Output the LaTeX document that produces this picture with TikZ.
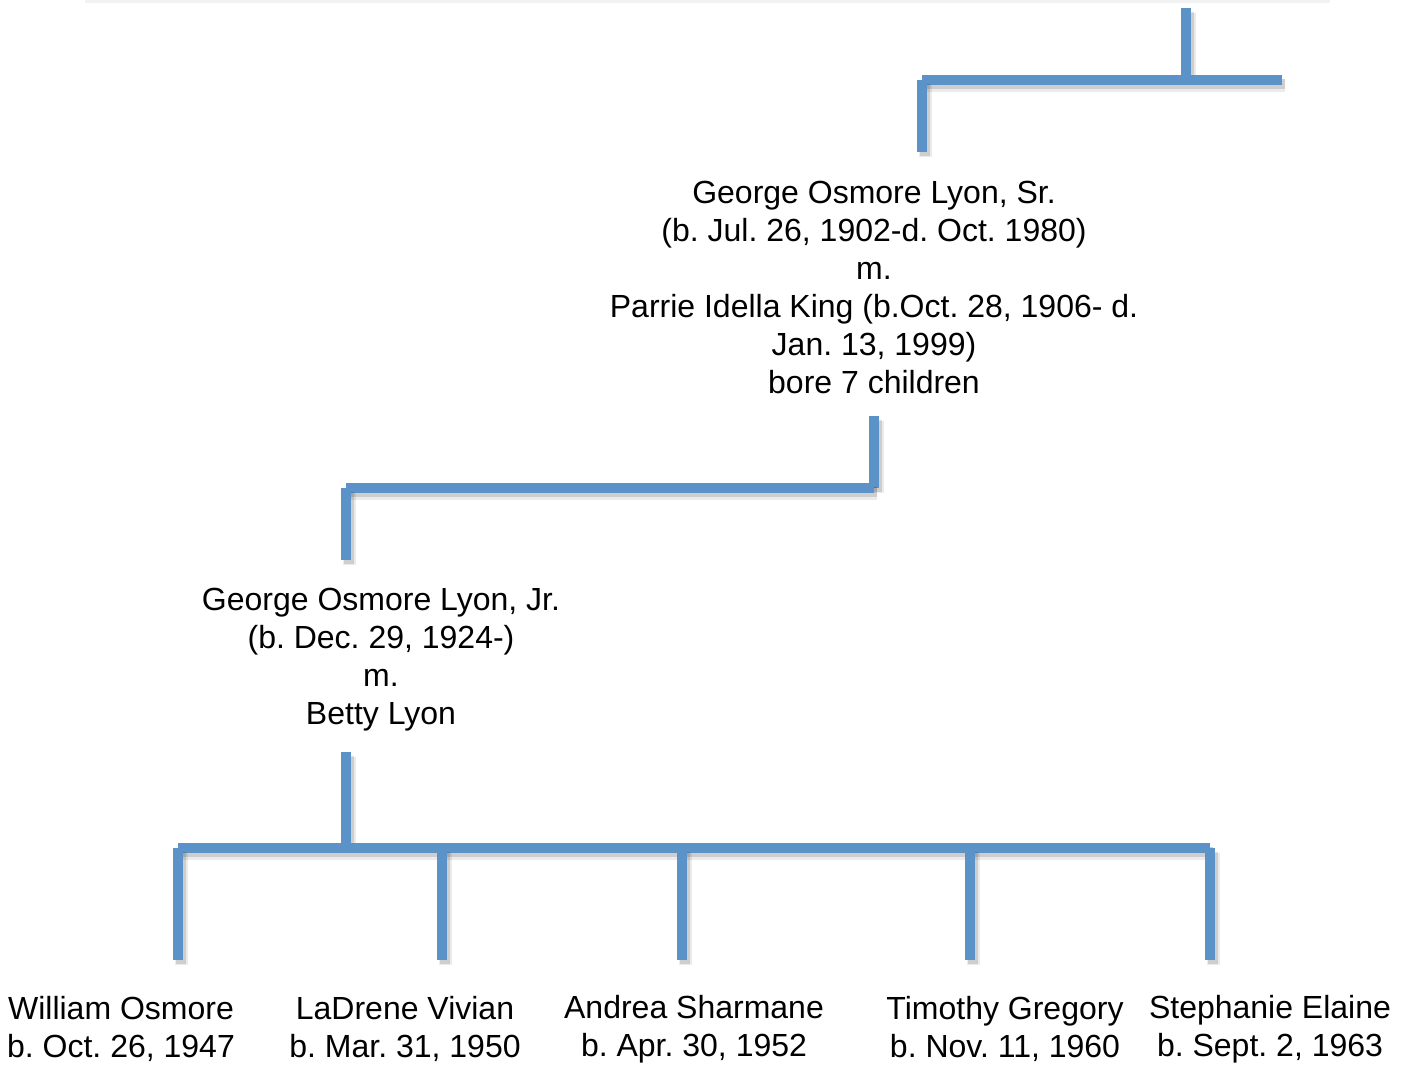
\documentclass[tikz,border=0pt]{standalone}
\usepackage{fontspec}
\setmainfont{Liberation Sans}
\definecolor{treeblue}{RGB}{91,147,201}
\begin{document}
\frenchspacing
\begin{tikzpicture}[x=0.5pt,y=-0.5pt,
    person/.style ={align=center, inner sep=0pt, font=\fontsize{16}{19}\selectfont},
    branch/.style ={draw=treeblue, line width=5pt,
      preaction={draw=black, opacity=0.08, line width=6.5pt, transform canvas={shift={(1.5pt,-2.5pt)}}},
      preaction={draw=black, opacity=0.12, line width=5pt, transform canvas={shift={(1.5pt,-2pt)}}}}]
   \useasboundingbox (0,0) rectangle (1406,1066);
   \draw[black!5, line width=1.5pt] (85,1) -- (1330,1);
   % people
   \node[person] (A) at (874,287) {George Osmore Lyon, Sr.\\(b. Jul. 26, 1902-d. Oct. 1980)\\m.\\Parrie Idella King (b.Oct. 28, 1906- d.\\Jan. 13, 1999)\\bore 7 children};
   \node[person] (B) at (381,660) {George Osmore Lyon, Jr.\\(b. Dec. 29, 1924-)\\m.\\Betty Lyon};
   \node[person] (C) at (121,1029) {William Osmore\\b. Oct. 26, 1947};
   \node[person] (D) at (405,1029) {LaDrene Vivian\\b. Mar. 31, 1950};
   \node[person] (E) at (694,1029) {Andrea Sharmane\\b. Apr. 30, 1952};
   \node[person] (F) at (1005,1029) {Timothy Gregory\\b. Nov. 11, 1960};
   \node[person] (G) at (1270,1029) {Stephanie Elaine\\b. Sept. 2, 1963};
   % line ends
   \coordinate (p1) at (1186,8);
   \coordinate (p2) at (1186,80);
   \coordinate (p3) at (922,80);
   \coordinate (p4) at (1282,80);
   \coordinate (p5) at (922,152);
   \coordinate (q1) at (874,416);
   \coordinate (q2) at (874,488);
   \coordinate (q3) at (346,488);
   \coordinate (q4) at (346,560);
   \coordinate (r1) at (346,752);
   \coordinate (r2) at (346,848);
   \coordinate (r3) at (178,848);
   \coordinate (r4) at (1210,848);
   \foreach \x/\n in {178/c, 442/d, 682/e, 970/f, 1210/g} {
      \coordinate (\n1) at (\x,848);
      \coordinate (\n2) at (\x,960);
   }
   \draw[branch] (p1) to (p2);
   \draw[branch] (p3) to (p4);
   \draw[branch] (p3) to (p5);
   \draw[branch] (q1) to (q2);
   \draw[branch] (q2) to (q3);
   \draw[branch] (q3) to (q4);
   \draw[branch] (r1) to (r2);
   \draw[branch] (r3) to (r4);
   \foreach \n in {c,d,e,f,g}
      \draw[branch] (\n1) to (\n2);
 \end{tikzpicture}
\end{document}
